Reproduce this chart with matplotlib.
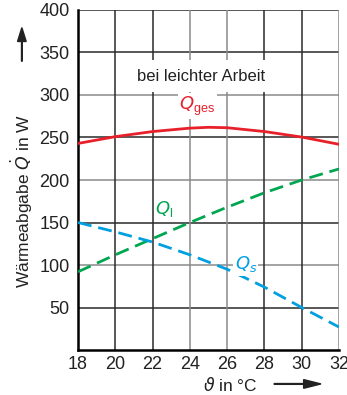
import numpy as np
import matplotlib
matplotlib.use("Agg")
import matplotlib.pyplot as plt

plt.rcParams['font.family'] = ['Liberation Sans', 'DejaVu Sans']

# Daten
temp = [18, 20, 22, 24, 25, 26, 28, 30, 32]
q_ges = [243, 251, 257, 261, 262, 261.5, 257, 250.5, 242]
temp_l = [18, 20, 22, 24, 26, 28, 30, 32]
q_l = [92, 112, 131, 150, 168, 185, 200, 213]
q_s = [150, 139, 127, 112, 95, 74, 50, 27]

x_ticks = [18, 20, 22, 24, 26, 28, 30, 32]
y_ticks = [50, 100, 150, 200, 250, 300, 350, 400]

fig = plt.figure(figsize=(3.47, 3.95), dpi=100)
ax = fig.add_axes([0.2248, 0.1139, 0.7522, 0.8608])
ax.set_xlim(18, 32)
ax.set_ylim(0, 400)

# Gitter: abwechselnd dunkel und grau
dunkel = '#2a2a2a'
grau = '#8a8a8a'
for y, c in zip(y_ticks, [dunkel, grau, dunkel, grau, dunkel, grau, dunkel, dunkel]):
    ax.axhline(y, color=c, lw=1.1, zorder=1)
for x, c in zip(x_ticks[1:], [dunkel, dunkel, grau, grau, dunkel, dunkel, grau]):
    ax.axvline(x, color=c, lw=1.1, zorder=1)

ax.plot(temp, q_ges, color='#e8202a', lw=2.0, zorder=3)
ax.plot(temp_l, q_l, color='#00a650', lw=2.0, dashes=(5, 2.5), zorder=3)
ax.plot(temp_l, q_s, color='#00a0e0', lw=2.0, dashes=(5, 2.5), zorder=3)

ax.text(24.6, 322, 'bei leichter Arbeit', fontsize=12, ha='center', va='center', color='#222222',
        bbox=dict(facecolor='white', edgecolor='none', pad=6), zorder=4)
ax.text(24.4, 287, r'$\mathit{Q}_\mathregular{ges}$', fontsize=13, ha='center', va='center',
        color='#e8202a', bbox=dict(facecolor='white', edgecolor='none', pad=1), zorder=4)
ax.text(22.6, 166, r'$\mathit{Q}_\mathregular{l}$', fontsize=13, ha='center', va='center',
        color='#00a650', zorder=4)
ax.text(27.0, 101, r'$\mathit{Q}_\mathit{s}$', fontsize=13, ha='center', va='center',
        color='#00a0e0', bbox=dict(facecolor='white', edgecolor='none', pad=1), zorder=4)

ax.set_xticks(x_ticks)
ax.set_yticks(y_ticks)
ax.tick_params(length=0, labelsize=13, pad=6, colors='#222222')
ax.tick_params(axis='x', pad=4)
for s in ['top', 'right']:
    ax.spines[s].set_visible(False)
ax.spines['left'].set_linewidth(1.8)
ax.spines['bottom'].set_linewidth(1.8)

fig.text(0.063, 0.49, r'Wärmeabgabe $\dot{Q}$ in W', rotation=90, fontsize=12.5,
         ha='center', va='center', color='#222222')
fig.text(0.665, 0.026, r'$\vartheta$ in °C', fontsize=12.5, ha='center', va='center', color='#222222')
fig.patches.append(matplotlib.patches.FancyArrow(0.063, 0.845, 0, 0.085, width=0.002,
                   head_width=0.025, head_length=0.035, color='#222222',
                   transform=fig.transFigure, figure=fig, length_includes_head=True))
fig.patches.append(matplotlib.patches.FancyArrow(0.79, 0.028, 0.135, 0, width=0.002,
                   head_width=0.022, head_length=0.05, color='#222222',
                   transform=fig.transFigure, figure=fig, length_includes_head=True))

fig.savefig('out.png', dpi=100)
